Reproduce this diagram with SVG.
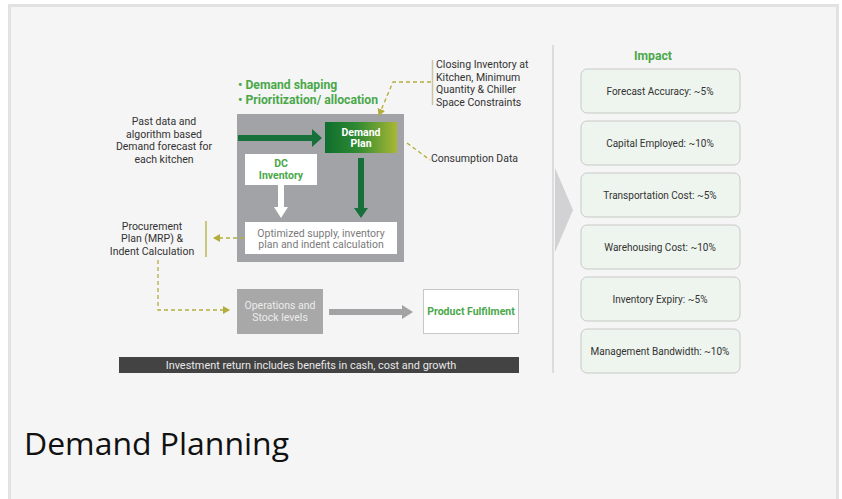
<svg xmlns="http://www.w3.org/2000/svg" width="842" height="499" viewBox="0 0 842 499">
<defs>
<linearGradient id="dpg" x1="0" y1="0" x2="1" y2="0">
<stop offset="0" stop-color="#0f6e2e"/>
<stop offset="0.45" stop-color="#2f8a32"/>
<stop offset="1" stop-color="#a9b734"/>
</linearGradient>
<marker id="olv" markerWidth="8" markerHeight="8" refX="6" refY="4" orient="auto" markerUnits="userSpaceOnUse">
<path d="M0,0 L7,4 L0,8 Z" fill="#b3ad3c"/>
</marker>
<style>
.t{font-family:Roboto,"Liberation Sans",sans-serif;fill:#333;font-size:10.5px}
.c{text-anchor:middle}
.g{fill:#4aa84a;font-weight:bold}
.w{fill:#fff;font-weight:bold}
.dash{fill:none;stroke:#b3ad3c;stroke-width:1.3;stroke-dasharray:4,3}
.imp{fill:#eef5ee;stroke:#c6c9c6;stroke-width:1}
.it{font-family:Roboto,"Liberation Sans",sans-serif;fill:#333;font-size:10px;text-anchor:middle}
</style>
</defs>
<rect width="842" height="499" fill="#ffffff"/>
<rect x="9.5" y="5.5" width="828" height="500" fill="#f5f5f5" stroke="#e2e2e2" stroke-width="3"/>

<g id="past-data">
<text class="t c" x="164" y="125">Past data and</text>
<text class="t c" x="164" y="137.5">algorithm based</text>
<text class="t c" x="164" y="150">Demand forecast for</text>
<text class="t c" x="164" y="162.5">each kitchen</text>
</g>

<g id="bullets">
<text class="t g" x="238" y="89" style="font-size:12.2px">• Demand shaping</text>
<text class="t g" x="238" y="103.5" style="font-size:12.2px">• Prioritization/ allocation</text>
</g>

<g id="core-box">
<rect x="237" y="114" width="167" height="148" fill="#a2a3a6"/>
</g>

<g id="demand-plan">
<rect x="325" y="122" width="72" height="31" fill="url(#dpg)"/>
<text class="t c w" x="361" y="135.5">Demand</text>
<text class="t c w" x="361" y="147">Plan</text>
</g>

<g id="dc-inventory">
<rect x="245" y="154" width="72" height="31" fill="#ffffff"/>
<text class="t c g" x="281" y="167">DC</text>
<text class="t c g" x="281" y="179">Inventory</text>
</g>

<g id="optimized">
<rect x="245" y="222" width="152" height="32" fill="#ffffff"/>
<text class="t c" x="321" y="236.5" style="fill:#7a7a7a">Optimized supply, inventory</text>
<text class="t c" x="321" y="248" style="fill:#7a7a7a">plan and indent calculation</text>
</g>

<g id="closing-inventory">
<line x1="432.5" y1="60" x2="432.5" y2="105" stroke="#c9c6a0" stroke-width="1.5"/>
<text class="t" x="436" y="68">Closing Inventory at</text>
<text class="t" x="436" y="80.5">Kitchen, Minimum</text>
<text class="t" x="436" y="93">Quantity &amp; Chiller</text>
<text class="t" x="436" y="105.5">Space Constraints</text>
</g>

<g id="consumption">
<text class="t" x="431" y="162">Consumption Data</text>
</g>

<g id="procurement">
<text class="t c" x="152" y="229.5">Procurement</text>
<text class="t c" x="152" y="242">Plan (MRP) &amp;</text>
<text class="t c" x="152" y="254.5">Indent Calculation</text>
<line x1="206" y1="221" x2="206" y2="257" stroke="#b3ad3c" stroke-width="1.3"/>
</g>

<g id="operations">
<rect x="237" y="289" width="86" height="45" fill="#a8a8a8"/>
<text class="t c" x="280" y="308.5" style="fill:#ececec">Operations and</text>
<text class="t c" x="280" y="320.5" style="fill:#ececec">Stock levels</text>
</g>

<g id="fulfilment">
<rect x="423.5" y="289.5" width="95" height="44" fill="#ffffff" stroke="#c8c8c8" stroke-width="1"/>
<text class="t c g" x="471" y="315">Product Fulfilment</text>
</g>

<g id="investment-bar">
<rect x="119" y="357" width="400" height="16" fill="#434343"/>
<text class="t c" x="311" y="368.8" style="fill:#e8e8e8;font-size:10.9px">Investment return includes benefits in cash, cost and growth</text>
</g>

<g id="divider">
<line x1="553" y1="45" x2="553" y2="373" stroke="#dcdcdc" stroke-width="2"/>
<polygon points="555,168 573,210 555,252" fill="#d2d2d5"/>
</g>

<g id="impact">
<text class="t c g" x="653" y="59.5" style="font-size:12.2px">Impact</text>
<g id="imp1"><rect class="imp" x="581" y="69" width="159" height="44" rx="6"/><text class="it" x="660" y="95">Forecast Accuracy: ~5%</text></g>
<g id="imp2"><rect class="imp" x="581" y="121" width="159" height="44" rx="6"/><text class="it" x="660" y="147">Capital Employed: ~10%</text></g>
<g id="imp3"><rect class="imp" x="581" y="173" width="159" height="44" rx="6"/><text class="it" x="660" y="199">Transportation Cost: ~5%</text></g>
<g id="imp4"><rect class="imp" x="581" y="225" width="159" height="44" rx="6"/><text class="it" x="660" y="251">Warehousing Cost: ~10%</text></g>
<g id="imp5"><rect class="imp" x="581" y="277" width="159" height="44" rx="6"/><text class="it" x="660" y="303">Inventory Expiry: ~5%</text></g>
<g id="imp6"><rect class="imp" x="581" y="329" width="159" height="44" rx="6"/><text class="it" x="660" y="355">Management Bandwidth: ~10%</text></g>
</g>

<g id="connectors">
<polygon points="238,135 312,135 312,129 322,138 312,147 312,141 238,141" fill="#17703a"/>
<polygon points="358,158 364,158 364,208 368,208 361,218 354,208 358,208" fill="#17703a"/>
<polygon points="278,185 284,185 284,207 288,207 281,218 274,207 278,207" fill="#ffffff"/>
<path class="dash" d="M431,82 L393,82 L379,115" marker-end="url(#olv)"/>
<path class="dash" d="M407,143 L430,160"/>
<path class="dash" d="M244,238 L214,238" marker-end="url(#olv)"/>
<path class="dash" d="M158,260 L158,310 L229,310" marker-end="url(#olv)"/>
<polygon points="329,309 402,309 402,305 413,312 402,319 402,315 329,315" fill="#a3a3a6"/>
</g>

<text x="24" y="455" font-family="'Open Sans','Noto Sans',sans-serif" font-size="31" fill="#111" textLength="265" lengthAdjust="spacingAndGlyphs">Demand Planning</text>
</svg>
